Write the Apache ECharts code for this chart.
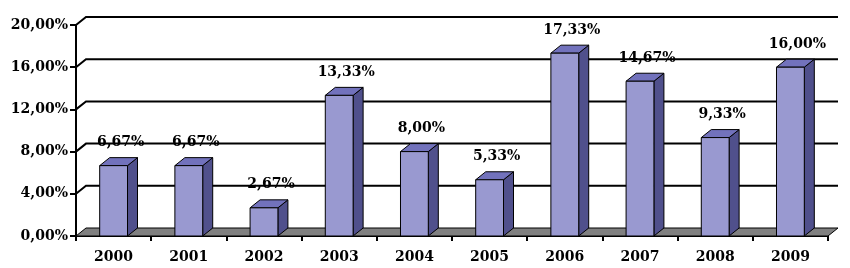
<!DOCTYPE html>
<html>
<head>
<meta charset="utf-8">
<script src="https://cdn.jsdelivr.net/npm/echarts@6/dist/echarts.min.js"></script>
<style>
html,body{margin:0;padding:0;background:#fff;}
#chart{width:850px;height:268px;}
</style>
</head>
<body>
<div id="chart"></div>
<script>
// ---- data
var years = ['2000','2001','2002','2003','2004','2005','2006','2007','2008','2009'];
var shares = [6.67, 6.67, 2.67, 13.33, 8.00, 5.33, 17.33, 14.67, 9.33, 16.00];
var yTicks = [0, 4, 8, 12, 16, 20];

// ---- 3d look
var DX = 10, DY = -8;       // depth offset of the back wall
var FONT = 'DejaVu Serif';
var FRONT = '#9999d0', SIDE = '#50508c', TOP = '#7272bc';

function pct(v){ return v.toFixed(2).replace('.', ',') + '%'; }

var chart = echarts.init(document.getElementById('chart'));

// back wall grid lines + side wall diagonals + grey floor
function renderWalls(params, api){
    var cs = params.coordSys;
    var left = cs.x, right = cs.x + cs.width;
    var y0 = api.coord([0, 0])[1];
    var kids = [];
    kids.push({
        type:'polygon',
        shape:{points:[[left,y0],[left+DX,y0+DY],[right+DX,y0+DY],[right,y0]]},
        style:{fill:'#808080', stroke:'#000', lineWidth:1}
    });
    yTicks.forEach(function(t){
        if(t === 0) return;
        var y = api.coord([0, t])[1];
        kids.push({
            type:'polyline',
            shape:{points:[[left,y],[left+DX,y+DY],[right+DX,y+DY]]},
            style:{stroke:'#000', lineWidth:2, fill:null}
        });
    });
    return {type:'group', children:kids};
}

// one box per year
function renderBar(params, api){
    var idx = api.value(0), v = api.value(1);
    var top = api.coord([idx, v]);
    var base = api.coord([idx, 0]);
    var bw = api.size([1, 0])[0] * 0.37;
    var x1 = top[0] - bw/2, x2 = top[0] + bw/2;
    var yt = top[1], yb = base[1];
    return {
        type:'group',
        children:[
            {type:'polygon', shape:{points:[[x2,yt],[x2+DX,yt+DY],[x2+DX,yb+DY],[x2,yb]]},
             style:{fill:SIDE, stroke:'#000', lineWidth:1}},
            {type:'polygon', shape:{points:[[x1,yt],[x1+DX,yt+DY],[x2+DX,yt+DY],[x2,yt]]},
             style:{fill:TOP, stroke:'#000', lineWidth:1}},
            {type:'rect', shape:{x:x1, y:yt, width:bw, height:yb-yt},
             style:{fill:FRONT, stroke:'#000', lineWidth:1}},
            {type:'text', x: top[0] + DX/2 + 2, y: yt + DY - 15,
             style:{text:pct(v), fill:'#000', font:'bold 14px "' + FONT + '"',
                    textAlign:'center', textVerticalAlign:'middle'}}
        ]
    };
}

var option = {
    backgroundColor:'#fff',
    animation:false,
    grid:{left:76, right:22, top:25, bottom:32, containLabel:false, outerBoundsMode:'none'},
    xAxis:{
        type:'category',
        data:years,
        axisLine:{lineStyle:{color:'#000', width:2}},
        axisTick:{show:true, length:5, lineStyle:{color:'#000', width:2}},
        axisLabel:{margin:14, color:'#000', fontFamily:FONT, fontWeight:'bold', fontSize:14},
        splitLine:{show:false}
    },
    yAxis:{
        type:'value',
        min:0, max:20, interval:4,
        axisLine:{show:true, lineStyle:{color:'#000', width:2}},
        axisTick:{show:true, length:6, lineStyle:{color:'#000', width:2}},
        axisLabel:{margin:8, color:'#000', fontFamily:FONT, fontWeight:'bold', fontSize:14,
                   formatter:function(v){ return pct(v); }},
        splitLine:{show:false}
    },
    series:[
        {type:'custom', z:1, renderItem:renderWalls, data:[[0,0]], silent:true},
        {type:'custom', z:3, renderItem:renderBar,
         data:shares.map(function(v,i){ return [i, v]; })}
    ]
};
chart.setOption(option);
</script>
</body>
</html>
